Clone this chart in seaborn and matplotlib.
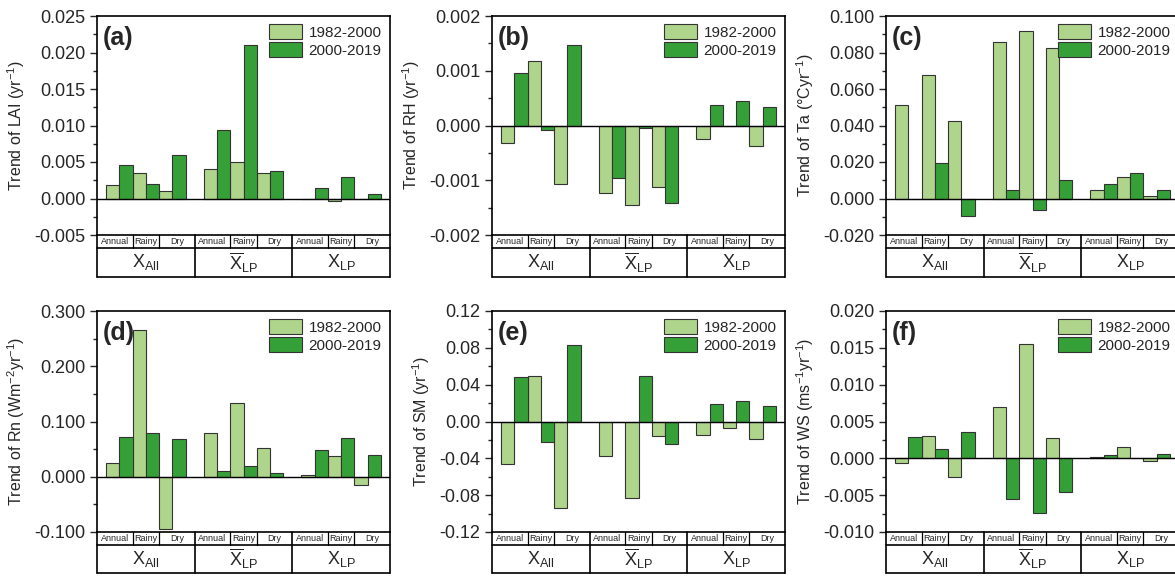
import numpy as np
import pandas as pd
import matplotlib
matplotlib.use('Agg')
import matplotlib.pyplot as plt
from matplotlib.ticker import MultipleLocator, FormatStrFormatter
import seaborn as sns

sns.set_style('ticks')
plt.rcParams['font.family'] = ['Liberation Sans', 'DejaVu Sans']
plt.rcParams['mathtext.fontset'] = 'custom'
plt.rcParams['mathtext.rm'] = 'Liberation Sans'
plt.rcParams['mathtext.it'] = 'Liberation Sans:italic'
plt.rcParams['mathtext.bf'] = 'Liberation Sans:bold'

# --- data ---
periods = ['1982-2000', '2000-2019']
seasons = ['Annual', 'Rainy', 'Dry']
groups = [r'$\mathrm{X}_{\mathrm{All}}$', r'$\overline{\mathrm{X}}_{\mathrm{LP}}$', r'$\mathrm{X}_{\mathrm{LP}}$']

lai_p1 = [0.0018, 0.0035, 0.0010, 0.0040, 0.0050, 0.0035, -0.0001, -0.0003, 0.0000]
lai_p2 = [0.0046, 0.0020, 0.0060, 0.0094, 0.0210, 0.0037, 0.0014, 0.0030, 0.0006]
rh_p1 = [-0.00032, 0.00118, -0.00107, -0.00123, -0.00145, -0.00112, -0.00024, 0.0, -0.00037]
rh_p2 = [0.00096, -0.00008, 0.00147, -0.00096, -0.00005, -0.00141, 0.00037, 0.00044, 0.00034]
ta_p1 = [0.0511, 0.0678, 0.0425, 0.0855, 0.0918, 0.0825, 0.0049, 0.0116, 0.0015]
ta_p2 = [0.0, 0.0193, -0.0096, 0.0045, -0.0065, 0.0100, 0.0080, 0.0140, 0.0049]
rn_p1 = [0.0255, 0.266, -0.095, 0.0788, 0.134, 0.0515, 0.0024, 0.038, -0.0158]
rn_p2 = [0.0727, 0.080, 0.0685, 0.0097, 0.0188, 0.006, 0.0485, 0.071, 0.039]
sm_p1 = [-0.0462, 0.049, -0.0938, -0.0378, -0.0833, -0.0153, -0.0149, -0.0073, -0.0185]
sm_p2 = [0.048, -0.0222, 0.0833, 0.0, 0.0495, -0.0244, 0.0185, 0.0225, 0.0164]
ws_p1 = [-0.0007, 0.0030, -0.0026, 0.0070, 0.0155, 0.0028, 0.0002, 0.0015, -0.0004]
ws_p2 = [0.0029, 0.0012, 0.0036, -0.0055, -0.0074, -0.0046, 0.0005, 0.0, 0.0006]

colors = ['#afd48b', '#36a038']

panels = [
    ('(a)', r'Trend of LAI (yr$^{-1}$)', lai_p1, lai_p2, (-0.005, 0.025), 0.005, '%.3f'),
    ('(b)', r'Trend of RH (yr$^{-1}$)', rh_p1, rh_p2, (-0.002, 0.002), 0.001, '%.3f'),
    ('(c)', 'Trend of Ta (\u00b0Cyr$^{-1}$)', ta_p1, ta_p2, (-0.02, 0.10), 0.02, '%.3f'),
    ('(d)', r'Trend of Rn (Wm$^{-2}$yr$^{-1}$)', rn_p1, rn_p2, (-0.1, 0.3), 0.1, '%.3f'),
    ('(e)', r'Trend of SM (yr$^{-1}$)', sm_p1, sm_p2, (-0.12, 0.12), 0.04, '%.2f'),
    ('(f)', r'Trend of WS (ms$^{-1}$yr$^{-1}$)', ws_p1, ws_p2, (-0.01, 0.02), 0.005, '%.3f'),
]

# x positions: 3 groups of 3 seasons on a 0..11 axis
gw = 11 / 3
pos = [g * gw + gw / 2 + (i - 1) for g in range(3) for i in range(3)]

W, H = 1175, 576
fig = plt.figure(figsize=(W / 100, H / 100), dpi=100)
lefts = [97, 492, 886]
rows = [(16, 235, 277), (311, 532, 573)]
axw = 293
split = 1 - 13 / 42

for k, (tag, ylab, p1, p2, ylim, step, fmt) in enumerate(panels):
    r, c = divmod(k, 3)
    top, bot, cbot = rows[r]
    ax = fig.add_axes([lefts[c] / W, 1 - bot / H, axw / W, (bot - top) / H])
    df = pd.DataFrame({
        'pos': pos * 2,
        'period': [periods[0]] * 9 + [periods[1]] * 9,
        'value': list(p1) + list(p2),
    })
    sns.barplot(data=df, x='pos', y='value', hue='period', hue_order=periods,
                palette=colors, saturation=1, native_scale=True, width=1.0, gap=0,
                errorbar=None, edgecolor='#333333', linewidth=0.8, ax=ax)
    ax.set_xlim(0, 11)
    ax.set_ylim(*ylim)
    ax.axhline(0, color='black', lw=1.0, zorder=3)
    ax.set_xticks([])
    ax.set_xlabel('')
    ax.set_ylabel(ylab, fontsize=11.5, labelpad=5)
    ax.yaxis.set_major_locator(MultipleLocator(step))
    ax.yaxis.set_minor_locator(MultipleLocator(step / 2))
    ax.yaxis.set_major_formatter(FormatStrFormatter(fmt))
    ax.tick_params(axis='y', which='major', direction='out', length=5, width=1, labelsize=13)
    ax.tick_params(axis='y', which='minor', direction='out', length=3, width=1)
    for s in ax.spines.values():
        s.set_visible(True)
        s.set_linewidth(1.2)
        s.set_color('black')
    ax.text(0.02, 0.955, tag, transform=ax.transAxes, fontsize=18,
            fontweight='bold', va='top', ha='left')
    h, l = ax.get_legend_handles_labels()
    ax.legend(h, l, loc='upper right', frameon=False, fontsize=11,
              handlelength=2.2, handleheight=1.1, borderaxespad=0.15,
              labelspacing=0.15, handletextpad=0.4)

    # category table under the axis
    cax = fig.add_axes([lefts[c] / W, 1 - cbot / H, axw / W, (cbot - bot) / H])
    cax.set_xlim(0, 11)
    cax.set_ylim(0, 1)
    cax.axis('off')
    lk = dict(color='black', lw=1.2, clip_on=False)
    cax.plot([0, 11], [0, 0], **lk)
    cax.plot([0, 11], [split, split], **lk)
    cax.plot([0, 0], [0, 1], **lk)
    cax.plot([11, 11], [0, 1], **lk)
    for g in range(3):
        x0 = g * gw
        if g > 0:
            cax.plot([x0, x0], [0, 1], **lk)
        bounds = [x0, x0 + gw / 2 - 0.5, x0 + gw / 2 + 0.5, x0 + gw]
        for i in range(1, 3):
            cax.plot([bounds[i], bounds[i]], [split, 1], color='black', lw=0.9)
        for i, s in enumerate(seasons):
            cax.text((bounds[i] + bounds[i + 1]) / 2, (split + 1) / 2, s,
                     fontsize=6.5, ha='center', va='center')
        cax.text(x0 + gw / 2, split / 2, groups[g], fontsize=13,
                 ha='center', va='center')

fig.savefig('out.png', dpi=100)
